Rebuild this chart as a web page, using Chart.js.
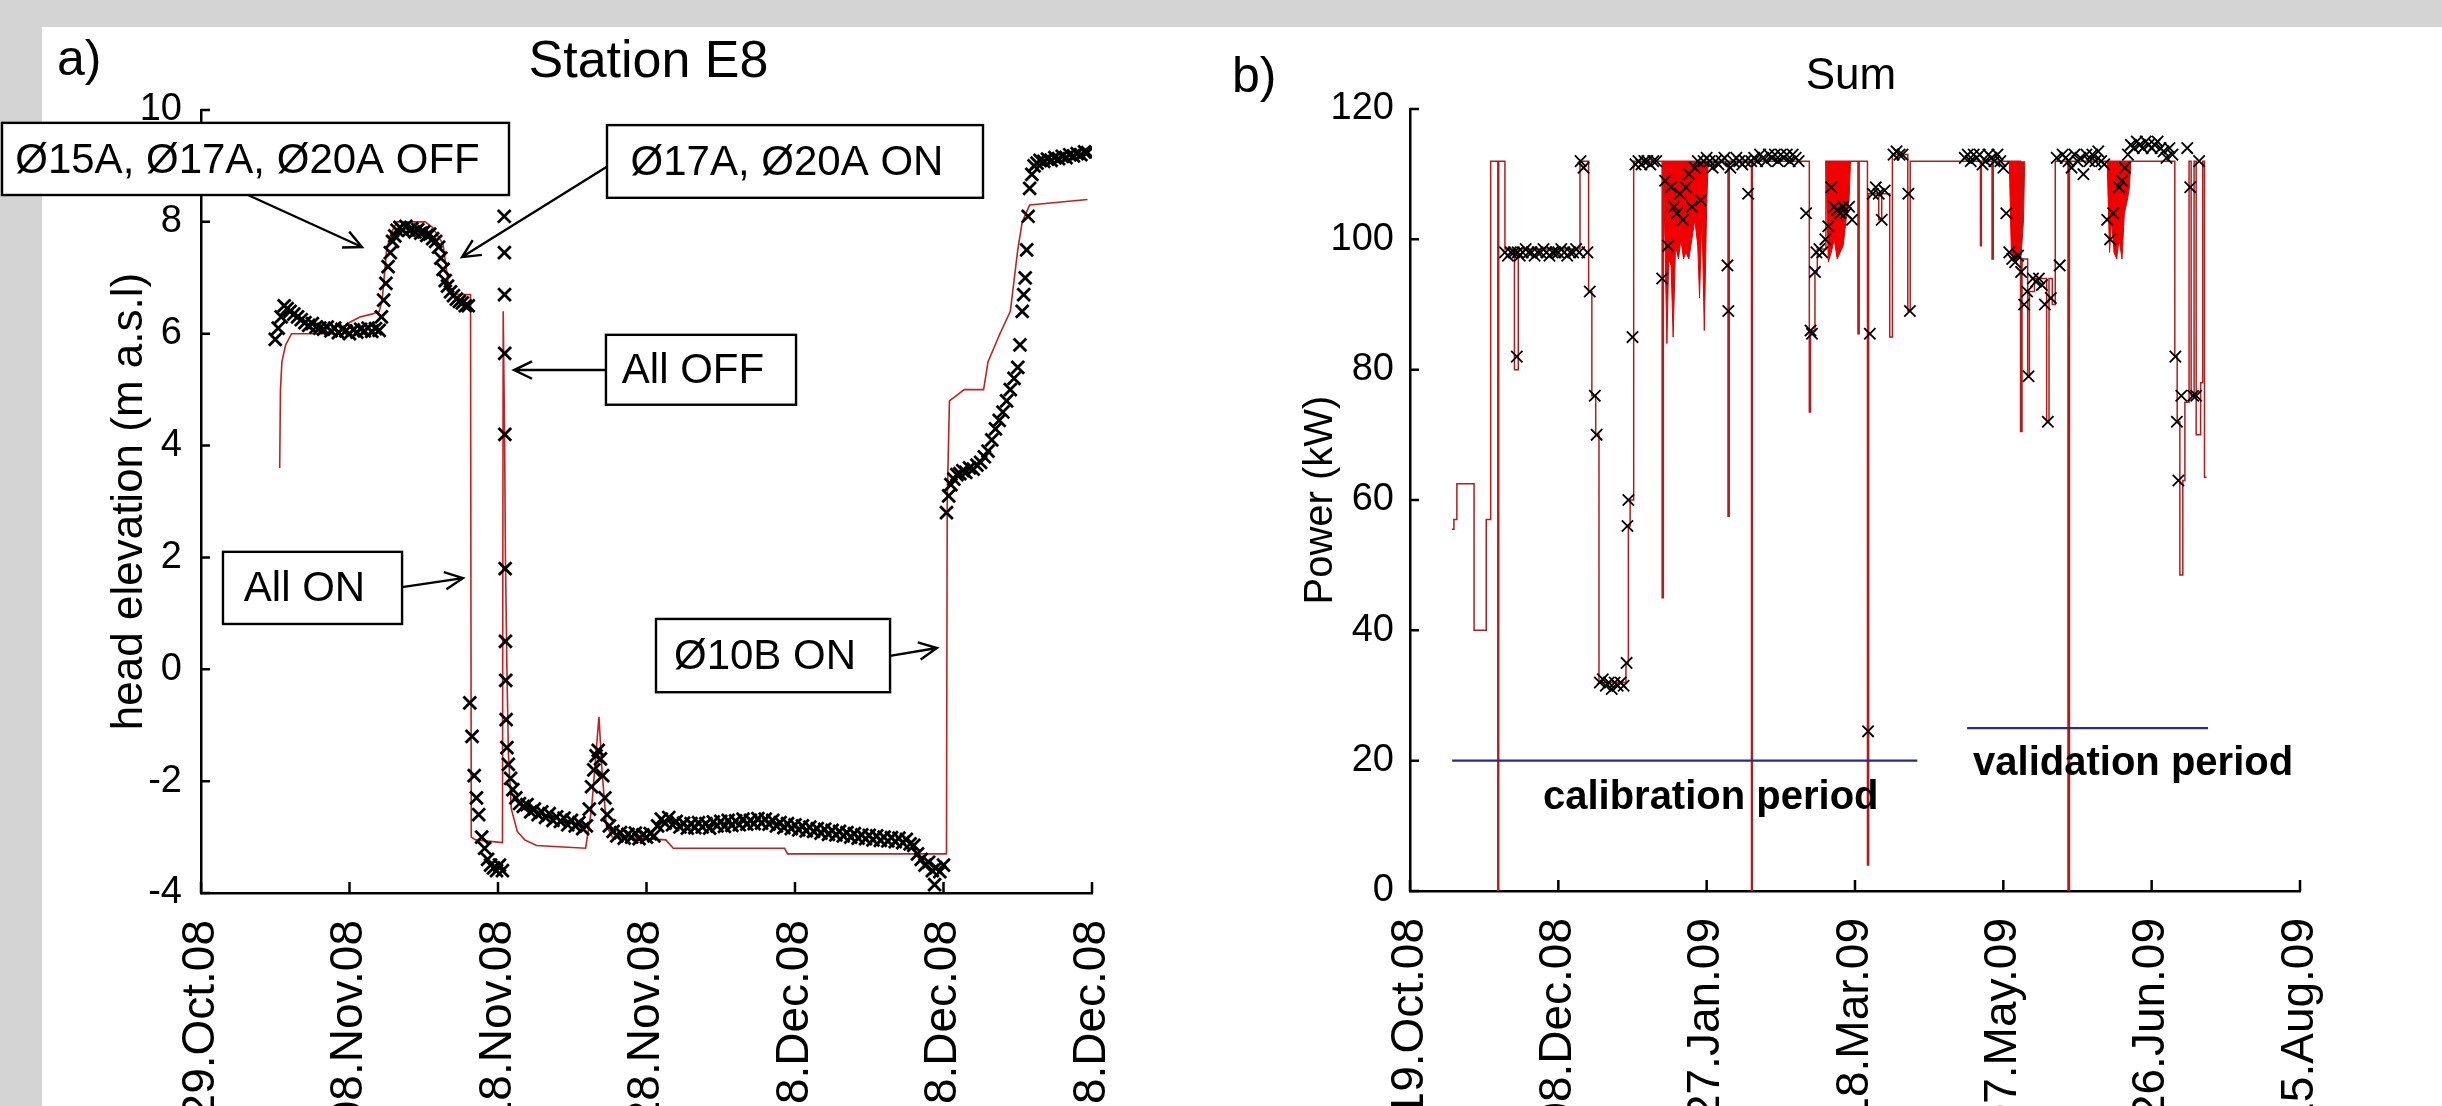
<!DOCTYPE html>
<html>
<head>
<meta charset="utf-8">
<script src="https://cdn.jsdelivr.net/npm/chart.js@4.4.1/dist/chart.umd.min.js"></script>
<style>
  html, body { margin: 0; padding: 0; background: #d4d4d4; }
  body { width: 2442px; height: 1106px; position: relative; overflow: hidden; }
  #paper { position: absolute; left: 42px; top: 27px; right: 0; bottom: 0; background: #fff; }
  .panel { position: absolute; top: 0; height: 1106px; }
  #panelA { left: 0; width: 1200px; }
  #panelB { left: 1200px; width: 1242px; }
</style>
</head>
<body>
<div id="paper"></div>
<div class="panel" id="panelA"><canvas id="chartA"></canvas></div>
<div class="panel" id="panelB"><canvas id="chartB"></canvas></div>
<script>
// ---- panel a: Station E8, days since 29.Oct.08 ----
const datesA = ['29.Oct.08', '08.Nov.08', '18.Nov.08', '28.Nov.08', '08.Dec.08', '18.Dec.08', '28.Dec.08'];

const obsDaysA = [
  5.0, 5.2, 5.4, 5.6, 5.8, 6.0,
  6.25, 6.5, 6.75, 7.0, 7.25, 7.5, 7.75, 8.0, 8.25, 8.5, 8.75, 9.0,
  9.25, 9.5, 9.75, 10.0, 10.25, 10.5, 10.75, 11.0, 11.25, 11.5, 11.75, 12.0,
  12.15, 12.3, 12.45, 12.6, 12.75, 12.9, 13.05, 13.2,
  13.4, 13.6, 13.8, 14.0, 14.2, 14.4, 14.6, 14.8, 15.0, 15.2, 15.4, 15.6, 15.8,
  16.0, 16.15, 16.3, 16.45, 16.6, 16.8, 17.0, 17.2, 17.4, 17.6, 17.8, 18.0,
  18.1, 18.25, 18.4, 18.55, 18.7, 18.9, 19.1, 19.3, 19.5, 19.7, 19.9, 20.1, 20.3,
  20.42, 20.43, 20.44, 20.45, 20.46, 20.48, 20.5, 20.52, 20.55, 20.6, 20.7, 20.85, 21.0, 21.2,
  21.45, 21.7, 21.95, 22.2, 22.45, 22.7, 22.95, 23.2, 23.45, 23.7, 23.95, 24.2, 24.45, 24.7, 24.95, 25.2, 25.45, 25.7, 25.95,
  26.15, 26.3, 26.45, 26.6, 26.75, 26.9, 27.05, 27.2, 27.35, 27.5,
  27.75, 28.0, 28.25, 28.5, 28.75, 29.0, 29.25, 29.5, 29.75, 30.0,
  30.25, 30.5, 30.75, 31.0, 31.25, 31.5, 31.75, 32.0, 32.25, 32.5,
  32.75, 33.0, 33.25, 33.5, 33.75, 34.0, 34.25, 34.5, 34.75, 35.0,
  35.25, 35.5, 35.75, 36.0, 36.25, 36.5, 36.75, 37.0, 37.25, 37.5,
  37.75, 38.0, 38.25, 38.5, 38.75, 39.0, 39.25, 39.5, 39.75, 40.0,
  40.25, 40.5, 40.75, 41.0, 41.25, 41.5, 41.75, 42.0, 42.25, 42.5,
  42.75, 43.0, 43.25, 43.5, 43.75, 44.0, 44.25, 44.5, 44.75, 45.0,
  45.25, 45.5, 45.75, 46.0, 46.25, 46.5, 46.75, 47.0, 47.25, 47.5,
  47.75, 48.0, 48.25, 48.5, 48.75, 49.0, 49.25, 49.4, 49.5, 49.75,
  50.0,
  50.2, 50.35, 50.5, 50.7, 50.9, 51.1, 51.3, 51.5, 51.75, 52.0, 52.25, 52.5,
  52.75, 53.0, 53.25, 53.5, 53.75, 54.0, 54.25, 54.5, 54.75, 55.0, 55.15,
  55.3, 55.4, 55.5, 55.6, 55.7, 55.8, 55.95,
  56.1, 56.3, 56.5, 56.75, 57.0, 57.25, 57.5, 57.75, 58.0, 58.25, 58.5, 58.75, 59.0, 59.25, 59.5, 59.7];
const obsHeadA = [
  5.9, 6.1, 6.3, 6.5, 6.45, 6.4,
  6.35, 6.3, 6.25, 6.2, 6.15, 6.18, 6.12, 6.1, 6.08, 6.12, 6.05, 6.1,
  6.02, 6.08, 6.05, 6.0, 6.07, 6.03, 6.08, 6.05, 6.1, 6.04, 6.09, 6.06,
  6.3, 6.6, 6.9, 7.2, 7.45, 7.65, 7.75, 7.85,
  7.9, 7.85, 7.92, 7.85, 7.88, 7.82, 7.86, 7.8, 7.82, 7.76, 7.78, 7.7, 7.65,
  7.55, 7.35, 7.15, 6.95, 6.85, 6.75, 6.68, 6.62, 6.58, 6.55, 6.5, 6.5,
  -0.6, -1.2, -1.9, -2.3, -2.6, -3.0, -3.2, -3.4, -3.5, -3.55, -3.6, -3.5, -3.6,
  8.1, 7.45, 6.7, 5.65, 4.2, 1.8, 0.5, -0.2, -0.9, -1.4, -1.7, -1.95, -2.15, -2.3,
  -2.4, -2.45, -2.42, -2.55, -2.5, -2.6, -2.55, -2.65, -2.58, -2.7, -2.64, -2.72, -2.66, -2.78, -2.7, -2.8, -2.74, -2.85, -2.8,
  -2.5, -2.1, -1.8, -1.55, -1.45, -1.6, -1.9, -2.3, -2.6, -2.8,
  -2.9, -2.98, -2.92, -3.02, -2.95, -3.0, -2.93, -3.03, -2.96, -3.0,
  -2.94, -2.98, -2.8, -2.68, -2.75, -2.65, -2.78, -2.72, -2.82, -2.75,
  -2.84, -2.76, -2.83, -2.74, -2.82, -2.76, -2.84, -2.73, -2.8, -2.72,
  -2.81, -2.7, -2.79, -2.71, -2.78, -2.68, -2.77, -2.7, -2.76, -2.67,
  -2.75, -2.68, -2.77, -2.7, -2.8, -2.74, -2.83, -2.76, -2.85, -2.78,
  -2.87, -2.8, -2.89, -2.82, -2.9, -2.85, -2.93, -2.86, -2.95, -2.88,
  -2.96, -2.9, -2.98, -2.92, -3.0, -2.94, -3.02, -2.96, -3.03, -2.97,
  -3.05, -2.98, -3.06, -3.0, -3.07, -3.01, -3.08, -3.02, -3.1, -3.04,
  -3.12, -3.15, -3.3, -3.4, -3.5, -3.45, -3.6, -3.85, -3.55, -3.62,
  -3.5,
  2.8, 3.1, 3.3, 3.4, 3.48, 3.5, 3.55, 3.52, 3.6, 3.58, 3.65, 3.7,
  3.8, 3.9, 4.1, 4.3, 4.45, 4.6, 4.8, 5.0, 5.2, 5.4, 5.8,
  6.4, 6.7, 7.0, 7.5, 8.1, 8.6, 8.85,
  9.0, 9.05, 9.1, 9.08, 9.12, 9.1, 9.15, 9.13, 9.17, 9.15, 9.2, 9.18, 9.22, 9.2, 9.25, 9.24];

const modelDaysA = [5.3, 5.35, 5.45, 5.7, 6.1, 9.2, 9.6, 10.0, 10.7, 11.5, 12.0, 12.2, 12.5, 12.8, 13.2, 15.1, 15.6, 16.3,
  16.7, 17.0, 18.15, 18.2, 18.5, 20.3, 20.35, 20.45, 20.5, 20.6, 20.7, 20.9, 21.3, 21.8, 22.6, 25.9, 26.3, 26.6, 26.8,
  27.0, 27.3, 27.7, 31.3, 31.8, 39.3, 39.5, 50.2, 50.25, 50.4, 51.4, 52.7, 53.0, 53.8, 54.5, 55.0, 55.3, 55.8, 59.7];
const modelHeadA = [3.6, 5.0, 5.5, 5.8, 6.0, 6.0, 6.1, 6.2, 6.3, 6.35, 6.4, 6.6, 7.5, 7.8, 8.0, 8.0, 7.9, 7.6,
  6.8, 6.7, 6.7, -3.0, -3.05, -3.1, 6.4, 4.0, 2.0, 0.0, -1.5, -2.5, -2.9, -3.05, -3.15, -3.2, -2.5, -1.5, -0.85,
  -1.8, -2.8, -3.0, -3.05, -3.2, -3.2, -3.3, -3.3, 3.0, 4.8, 5.0, 5.0, 5.5, 6.0, 6.4, 7.5, 8.0, 8.3, 8.4];

// ---- panel b: Sum, days since 19.Oct.08 ----
const datesB = ['19.Oct.08', '08.Dec.08', '27.Jan.09', '18.Mar.09', '07.May.09', '26.Jun.09', '15.Aug.09'];

const obsDaysB = [32, 33, 34, 35, 36, 36.3, 37, 38, 39, 40, 41, 42, 43, 44, 45, 46, 47, 48, 49, 50, 51, 52, 53, 54, 55, 56, 57,
  57.5, 58.5, 59.8, 60.6, 62.3, 62.9, 64, 65, 66, 67, 68, 69, 70, 71, 72, 73, 73.3, 73.6, 75,
  76, 77, 78, 79, 80, 81, 82, 83,
  85, 86, 87, 88, 89, 90, 91, 92, 93, 94, 95, 96, 97, 98, 99,
  100, 101, 102, 103, 104, 105, 106, 107, 107.3, 108, 109, 110, 111, 112, 113, 114, 115, 116, 117, 118, 119, 120,
  121, 122, 123, 124, 125, 126, 127, 128, 129, 130, 131, 133.5,
  135, 135.5, 136.5, 137, 138, 139, 140, 141, 142, 143, 144, 145, 146, 147, 148, 149,
  154.4, 155, 156, 157, 158, 159, 160, 163, 164, 165, 166, 168, 168.5,
  187, 188, 189, 190, 191, 192, 193, 194, 195, 196, 197, 198, 199, 200,
  201, 202, 203, 204, 205, 206, 207, 208, 208.5, 210, 211, 212, 213, 214, 215, 216,
  218, 219, 220, 221, 222, 223, 224, 225, 226, 227, 228, 229, 230, 231, 232, 233, 234,
  235, 236, 237, 239, 240, 241, 242, 243, 244, 245, 246, 247, 248, 249, 250, 251, 252, 253, 254, 255, 256, 257,
  258, 258.5, 259, 260, 262, 263, 264, 265, 266];
const obsPowerB = [98, 97.5, 98, 98, 82, 98, 97.5, 98, 98.5, 98, 98, 97.5, 98, 98, 98.5, 98, 97.5, 98, 98, 98, 98.5, 98, 97.5, 98, 98, 98.5, 98,
  112, 111, 98, 92, 76, 70, 32, 32.5, 31.5, 32, 31, 32, 31.5, 32, 31.5, 35, 56, 60, 85,
  111.5, 112, 111.5, 112, 112, 111.5, 112, 112,
  94, 109, 99, 108, 105, 104, 107, 103, 108, 110, 105, 111, 112, 106, 112,
  112.5, 112, 111, 112, 111.5, 112, 112.5, 96, 89, 111, 112, 112.5, 112, 111.5, 112, 107, 112, 112.5, 112, 113, 112.5, 112,
  113, 112.5, 113, 112, 113, 112.5, 113, 112, 113, 112.5, 112, 104,
  86, 85.5, 95, 98, 98.5, 98, 100, 102, 108, 105, 104.5, 104, 105, 104, 105, 103,
  24.5, 85.5, 107, 108, 107, 103, 107.5, 113, 113.5, 113, 113, 107, 89,
  112.5, 113, 112, 113, 112.5, 113, 111.5, 112, 113, 112.5, 112, 113, 112, 111,
  104, 98, 97, 96.5, 97.5, 95, 90, 92, 79, 94, 93.5, 94, 93, 90, 72, 91,
  112.5, 96, 113, 112.5, 112, 111, 113, 112, 112.5, 110, 113, 112, 113, 112, 113.5, 112, 111.5,
  103, 100, 104, 108, 109, 111, 113, 114.5, 114, 115, 114.5, 114, 115, 114.5, 114, 114.5, 115, 114, 113.5, 112.5, 114, 113,
  82, 72, 63, 76, 114, 108, 76, 76, 112];

// model power, each value held until the next sample
const modelDaysB = [14.1, 14.8, 15.8, 21.6, 25.7, 27.2, 29.6, 29.9, 32.0, 35.2, 36.5, 57.3, 60.2, 61.3, 62.6, 63.7, 72.8,
  73.6, 74.2, 75.4, 85.0, 85.4, 107.2, 107.6, 115.1, 115.4, 134.6, 135.0, 136.5, 137.3, 140.2, 151.0, 151.4, 154.2, 154.6,
  158.0, 159.0, 161.7, 162.6, 167.8, 168.6, 192.3, 192.6, 196.2, 196.6, 205.8, 206.3, 208.2, 208.8, 210.5, 214.6, 215.4,
  216.5, 217.5, 221.8, 222.3, 257.8, 258.6, 259.5, 260.5, 261.2, 262.6, 263.3, 264.3, 265.0, 266.5, 267.2, 267.8, 268.5];
const modelPowerB = [55.5, 57, 62.5, 40, 57, 112, 0, 112, 98.5, 80, 98.5, 112, 92, 76, 70, 32, 35,
  56, 60, 112, 45, 112, 57.5, 112, 0, 112, 73.5, 86, 95, 98.5, 112, 85.5, 112, 4, 107,
  103, 107, 85, 113, 89, 112, 99, 112, 97, 112, 70.5, 97, 79, 92, 94, 72, 94,
  90, 112, 0, 112, 82, 72, 48.5, 63, 75, 112, 76, 112, 70, 78, 112, 63.5, 63.5];

// lower edge of the dense model oscillation bands (they reach up to 112 kW)
const bandDaysB = [85.4, 86.0, 86.6, 87.2, 88.0, 88.7, 89.5, 90.5, 91.3, 92.2, 93.0, 94.0, 95.0, 96.0, 97.0, 97.6, 98.4, 99.2, 100.0, 100.5, 101,
  140.2, 141.0, 142.0, 143.0, 144.0, 145.0, 146.0, 147.0, 148.0, 148.5, 149,
  202.0, 202.7, 203.5, 204.3, 205.0, 206.0, 206.8, 207.2, 208,
  235.0, 235.8, 236.5, 237.3, 238.2, 239.0, 240.0, 240.8, 241.8, 242.5, 243.0];
const bandLowB = [112, 98, 84, 97, 96, 85, 99, 97, 100, 97, 98, 97, 100, 103, 99, 91, 104, 86, 105, 112, null,
  112, 96.5, 98, 100, 97, 98, 99, 103, 106, 112, null,
  112, 98, 97, 96.5, 97, 97.5, 103, 112, null,
  112, 98, 103, 98, 97, 100, 97, 104, 106, 108, 112];

const calibDays = [14.2, 171];
const calibLevel = [20, 20];
const validDays = [187.8, 269];
const validLevel = [25, 25];

const zip = (xs, ys) => xs.map((x, i) => ({ x: x, y: ys[i] }));
const FONT = '"Liberation Sans", Arial, sans-serif';
Chart.defaults.font.family = FONT;
Chart.defaults.color = '#000';

function arrow(ctx, x1, y1, x2, y2) {
  const ang = Math.atan2(y2 - y1, x2 - x1), L = 20, w = 0.45;
  ctx.beginPath();
  ctx.moveTo(x1, y1);
  ctx.lineTo(x2, y2);
  ctx.moveTo(x2 - L * Math.cos(ang - w), y2 - L * Math.sin(ang - w));
  ctx.lineTo(x2, y2);
  ctx.lineTo(x2 - L * Math.cos(ang + w), y2 - L * Math.sin(ang + w));
  ctx.stroke();
}

// inward ticks, panel letter, title, notes, arrows and boxes
const decoPlugin = {
  id: 'deco',
  afterDraw(chart, args, o) {
    const { ctx, chartArea: a, scales: { x, y } } = chart;
    ctx.save();
    ctx.strokeStyle = '#000';
    ctx.lineWidth = 2.5;
    ctx.beginPath();
    x.ticks.forEach(t => { const p = x.getPixelForValue(t.value); ctx.moveTo(p, a.bottom); ctx.lineTo(p, a.bottom - 11); });
    y.ticks.forEach(t => { const p = y.getPixelForValue(t.value); ctx.moveTo(a.left, p); ctx.lineTo(a.left + 9, p); });
    ctx.stroke();

    ctx.fillStyle = '#000';
    ctx.textBaseline = 'alphabetic';
    ctx.textAlign = 'left';
    ctx.font = '50px ' + FONT;
    ctx.fillText(o.letter, a.left + o.letterDx, a.top + o.letterDy);
    ctx.textAlign = 'center';
    ctx.font = o.titleFont;
    ctx.fillText(o.title, (a.left + a.right) / 2 + o.titleDx, a.top + o.titleDy);

    (o.notes || []).forEach(n => {
      ctx.font = n.font;
      ctx.textAlign = 'left';
      ctx.fillText(n.text, x.getPixelForValue(n.x), y.getPixelForValue(n.y));
    });

    ctx.lineWidth = 2.4;
    (o.arrows || []).forEach(r => {
      arrow(ctx, x.getPixelForValue(r[0]), y.getPixelForValue(r[1]), x.getPixelForValue(r[2]), y.getPixelForValue(r[3]));
    });
    (o.boxes || []).forEach(b => {
      const x0 = x.getPixelForValue(b.x0), x1 = x.getPixelForValue(b.x1);
      const y0 = y.getPixelForValue(b.y0), y1 = y.getPixelForValue(b.y1);
      ctx.fillStyle = '#fff';
      ctx.fillRect(x0, y0, x1 - x0, y1 - y0);
      ctx.strokeRect(x0, y0, x1 - x0, y1 - y0);
      ctx.fillStyle = '#000';
      ctx.font = '42px ' + FONT;
      ctx.textAlign = 'center';
      ctx.textBaseline = 'middle';
      ctx.fillText(b.text, (x0 + x1) / 2 - 8, (y0 + y1) / 2 + 2);
      ctx.textBaseline = 'alphabetic';
    });
    ctx.restore();
  }
};

function xAxis(max, step, labels, height) {
  return {
    type: 'linear', min: 0, max: max,
    grid: { display: false, drawTicks: false },
    border: { display: true, color: '#000', width: 2.5 },
    ticks: {
      stepSize: step, autoSkip: false, minRotation: 90, maxRotation: 90, padding: 27,
      font: { size: 46 }, callback: v => labels[Math.round(v / step)]
    },
    afterFit: s => { s.height = height; }
  };
}

function yAxis(min, max, step, title, titleSize, titlePad, pad, width) {
  return {
    min: min, max: max,
    grid: { display: false, drawTicks: false },
    border: { display: true, color: '#000', width: 2.5 },
    ticks: { stepSize: step, padding: pad, font: { size: 38 } },
    title: { display: true, text: title, font: { size: titleSize }, padding: { top: titlePad, bottom: 0 } },
    afterFit: s => { s.width = width; }
  };
}

new Chart(document.getElementById('chartA'), {
  type: 'line',
  data: {
    datasets: [
      { label: 'measured', data: zip(obsDaysA, obsHeadA), showLine: false, pointStyle: 'crossRot', pointRadius: 9,
        pointBorderWidth: 2.8, borderColor: '#000', pointBorderColor: '#000', backgroundColor: '#000', order: 0 },
      { label: 'model', data: zip(modelDaysA, modelHeadA), borderColor: '#c42020', borderWidth: 1.6, pointRadius: 0,
        tension: 0, order: 1 }
    ]
  },
  options: {
    responsive: true, maintainAspectRatio: false, animation: false,
    layout: { padding: { left: 0, top: 110, right: 108, bottom: 0 } },
    plugins: {
      legend: { display: false }, tooltip: { enabled: false },
      deco: {
        letter: 'a)', letterDx: -144, letterDy: -35,
        title: 'Station E8', titleFont: '52px ' + FONT, titleDx: 2, titleDy: -33,
        arrows: [[3.16, 8.48, 10.84, 7.55], [27.41, 9.0, 17.58, 7.37], [27.27, 5.35, 21.08, 5.35],
                 [13.54, 1.47, 17.64, 1.63], [46.4, 0.24, 49.56, 0.38]],
        boxes: [
          { text: 'Ø15A, Ø17A, Ø20A OFF', x0: -13.4, x1: 20.74, y0: 9.77, y1: 8.48 },
          { text: 'Ø17A, Ø20A ON', x0: 27.34, x1: 52.66, y0: 9.73, y1: 8.43 },
          { text: 'All OFF', x0: 27.27, x1: 40.07, y0: 5.98, y1: 4.73 },
          { text: 'All ON', x0: 1.48, x1: 13.54, y0: 2.10, y1: 0.81 },
          { text: 'Ø10B ON', x0: 30.64, x1: 46.4, y0: 0.90, y1: -0.41 }
        ]
      }
    },
    scales: {
      x: xAxis(60, 10, datesA, 213),
      y: yAxis(-4, 10, 2, 'head elevation (m a.s.l)', 44, 103, 19, 201)
    }
  },
  plugins: [decoPlugin]
});

new Chart(document.getElementById('chartB'), {
  type: 'line',
  data: {
    datasets: [
      { label: 'measured', data: zip(obsDaysB, obsPowerB), showLine: false, pointStyle: 'crossRot', pointRadius: 8,
        pointBorderWidth: 1.8, borderColor: '#000', pointBorderColor: '#000', backgroundColor: '#000', order: 0 },
      { label: 'calibration', data: zip(calibDays, calibLevel), borderColor: '#2a2a8a', borderWidth: 2.2, pointRadius: 0, order: 1 },
      { label: 'validation', data: zip(validDays, validLevel), borderColor: '#2a2a8a', borderWidth: 2.2, pointRadius: 0, order: 1 },
      { label: 'model', data: zip(modelDaysB, modelPowerB), stepped: 'before', borderColor: '#b41c1c', borderWidth: 1.5,
        pointRadius: 0, order: 2 },
      { label: 'model band', data: zip(bandDaysB, bandLowB), fill: { value: 112 }, spanGaps: false,
        backgroundColor: '#f20000', borderColor: '#e00000', borderWidth: 1, pointRadius: 0, tension: 0, order: 3 }
    ]
  },
  options: {
    responsive: true, maintainAspectRatio: false, animation: false,
    layout: { padding: { left: 0, top: 109, right: 142, bottom: 0 } },
    plugins: {
      legend: { display: false }, tooltip: { enabled: false },
      deco: {
        letter: 'b)', letterDx: -178, letterDy: -17,
        title: 'Sum', titleFont: '44px ' + FONT, titleDx: -4, titleDy: -20,
        notes: [
          { text: 'calibration period', x: 44.8, y: 12.6, font: 'bold 40px ' + FONT },
          { text: 'validation period', x: 189.8, y: 17.8, font: 'bold 40px ' + FONT }
        ]
      }
    },
    scales: {
      x: xAxis(300, 50, datesB, 215),
      y: yAxis(0, 120, 20, 'Power (kW)', 40, 97, 16, 210)
    }
  },
  plugins: [decoPlugin]
});
</script>
</body>
</html>
